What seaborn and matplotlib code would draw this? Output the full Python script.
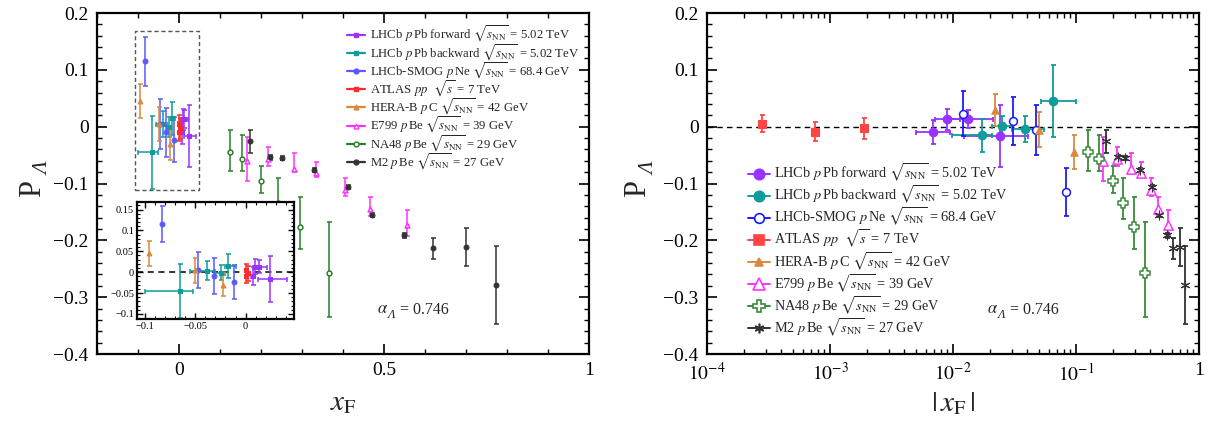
import numpy as np
import pandas as pd
import seaborn as sns
import matplotlib.pyplot as plt
from matplotlib.lines import Line2D
from matplotlib.patches import Rectangle
from matplotlib.ticker import MultipleLocator, FixedLocator, FuncFormatter, LogLocator, NullFormatter

sns.set_theme(style="ticks")
plt.rcParams['font.family'] = ['Liberation Serif', 'DejaVu Serif']
plt.rcParams['mathtext.fontset'] = 'stix'

# ---- data (xF signed, P as in left panel) ----
fwd_x = [0.0069, 0.0090, 0.0133, 0.0240]
fwd_p = [-0.009, 0.013, 0.013, -0.016]
fwd_up = [0.021, 0.018, 0.016, 0.055]
fwd_dn = [0.021, 0.018, 0.016, 0.055]
fwd_xmin = [0.0050, 0.0071, 0.0085, 0.0122]
fwd_xmax = [0.0094, 0.0114, 0.0210, 0.0408]

bwd_x = [-0.0172, -0.0249, -0.0388, -0.065]
bwd_p = [0.015, -0.001, 0.004, -0.045]
bwd_up = [0.029, 0.018, 0.023, 0.064]
bwd_dn = [0.029, 0.018, 0.023, 0.064]
bwd_xmin = [-0.0206, -0.030, -0.055, -0.100]
bwd_xmax = [-0.0099, -0.0206, -0.030, -0.052]

smog_x = [-0.0835, -0.047, -0.031, -0.012]
smog_p = [0.115, 0.005, -0.010, -0.023]
smog_up = [0.043, 0.044, 0.043, 0.040]
smog_dn = [0.043, 0.044, 0.043, 0.040]

atlas_x = [0.00028, 0.00075, 0.0019]
atlas_p = [0.005, -0.009, -0.003]
atlas_up = [0.015, 0.017, 0.018]
atlas_dn = [0.015, 0.017, 0.018]

herab_x = [-0.096, -0.050, -0.022]
herab_p = [0.045, 0.005, -0.030]
herab_up = [0.030, 0.030, 0.028]
herab_dn = [0.030, 0.030, 0.028]

e799_x = [0.167, 0.217, 0.281, 0.335, 0.406, 0.467, 0.556]
e799_p = [-0.060, -0.057, -0.074, -0.082, -0.111, -0.144, -0.173]
e799_up = [0.042, 0.021, 0.027, 0.020, 0.020, 0.021, 0.026]
e799_dn = [0.035, 0.013, 0.005, 0.006, 0.011, 0.013, 0.019]

na48_x = [0.125, 0.154, 0.200, 0.241, 0.296, 0.365]
na48_p = [-0.045, -0.056, -0.096, -0.135, -0.177, -0.257]
na48_up = [0.040, 0.042, 0.027, 0.044, 0.053, 0.090]
na48_dn = [0.033, 0.022, 0.020, 0.027, 0.039, 0.077]

m2_x = [0.174, 0.221, 0.251, 0.330, 0.411, 0.4715, 0.548, 0.619, 0.701, 0.772]
m2_p = [-0.026, -0.054, -0.055, -0.076, -0.106, -0.155, -0.191, -0.214, -0.212, -0.279]
m2_up = [0.021, 0.004, 0.004, 0.004, 0.004, 0.004, 0.004, 0.019, 0.033, 0.069]
m2_dn = [0.021, 0.004, 0.004, 0.004, 0.004, 0.004, 0.004, 0.019, 0.033, 0.069]

labels = [
    r'LHCb $p\,$Pb forward $\sqrt{s_{\rm NN}}$ = 5.02 TeV',
    r'LHCb $p\,$Pb backward $\sqrt{s_{\rm NN}}$ = 5.02 TeV',
    r'LHCb-SMOG $p\,$Ne $\sqrt{s_{\rm NN}}$ = 68.4 GeV',
    r'ATLAS $pp$  $\sqrt{s}$ = 7 TeV',
    r'HERA-B $p\,$C $\sqrt{s_{\rm NN}}$ = 42 GeV',
    r'E799 $p\,$Be $\sqrt{s_{\rm NN}}$ = 39 GeV',
    r'NA48 $p\,$Be $\sqrt{s_{\rm NN}}$ = 29 GeV',
    r'M2 $p\,$Be $\sqrt{s_{\rm NN}}$ = 27 GeV',
]

sets = [
    (fwd_x, fwd_p, fwd_up, fwd_dn, fwd_xmin, fwd_xmax),
    (bwd_x, bwd_p, bwd_up, bwd_dn, bwd_xmin, bwd_xmax),
    (smog_x, smog_p, smog_up, smog_dn, None, None),
    (atlas_x, atlas_p, atlas_up, atlas_dn, None, None),
    (herab_x, herab_p, herab_up, herab_dn, None, None),
    (e799_x, e799_p, e799_up, e799_dn, None, None),
    (na48_x, na48_p, na48_up, na48_dn, None, None),
    (m2_x, m2_p, m2_up, m2_dn, None, None),
]

# styles: left (small) and right (big) markers
colL = ['#9933ff', '#109c9a', '#5a5aff', '#ff2a2a', '#d98a40', '#ff33ff', '#2a7f2a', '#333333']
colR = ['#9933ff', '#109c9a', '#1a1aff', '#ff4444', '#d98a40', '#ff33ff', '#3a8a3a', '#333333']
mkL = ['s', 's', 'o', 's', '^', '^', 'o', 'o']
openL = [False, False, False, False, False, True, True, False]
mkR = ['o', 'o', 'o', 's', '^', '^', 'P', (6, 2, 0)]
openR = [False, False, True, False, False, True, True, False]
sizeR = [38, 38, 32, 30, 28, 45, 48, 40]

fig = plt.figure(figsize=(12.11, 4.34), dpi=100)
axL = fig.add_axes([0.0801, 0.1843, 0.4063, 0.7857])
axR = fig.add_axes([0.5838, 0.1843, 0.4063, 0.7857])
axI = fig.add_axes([0.1131, 0.2650, 0.1296, 0.2696])


def draw(ax, i, mirror, size, col, mk, op, elw=1.2):
    x, p, up, dn, xmin, xmax = [None if a is None else np.asarray(a, float) for a in sets[i]]
    if mirror:
        s = np.sign(x)
        xx = np.abs(x)
        pp = s * p
        u = np.where(s > 0, up, dn)
        d = np.where(s > 0, dn, up)
        if xmin is not None:
            lo = np.minimum(np.abs(xmin), np.abs(xmax))
            hi = np.maximum(np.abs(xmin), np.abs(xmax))
            xerr = [xx - lo, hi - xx]
        else:
            xerr = None
    else:
        xx, pp, u, d = x, p, up, dn
        xerr = None if xmin is None else [x - xmin, xmax - x]
    ax.errorbar(xx, pp, yerr=[d, u], xerr=xerr, fmt='none', ecolor=col,
                elinewidth=elw, capsize=1.8, capthick=elw, zorder=2)
    df = pd.DataFrame({'x': xx, 'P': pp})
    if op:
        sns.scatterplot(data=df, x='x', y='P', ax=ax, marker=mk, s=size, color='white',
                        edgecolor=col, linewidth=1.1, legend=False, zorder=3)
    else:
        sns.scatterplot(data=df, x='x', y='P', ax=ax, marker=mk, s=size, color=col,
                        edgecolor=col, linewidth=0.8, legend=False, zorder=3)


for i in range(len(sets)):
    draw(axL, i, False, 12, colL[i], mkL[i], openL[i], elw=1.1)
    draw(axI, i, False, 12, colL[i], mkL[i], openL[i], elw=1.1)
    draw(axR, i, True, sizeR[i], colR[i], mkR[i], openR[i], elw=1.3)


def fmt(v, _):
    v = round(v, 4)
    if abs(v) < 1e-9:
        return '0'
    return f'{v:g}'.replace('-', '\u2212')


for ax in (axL, axR, axI):
    for sp in ax.spines.values():
        sp.set_linewidth(1.6)
        sp.set_color('black')
    ax.tick_params(which='both', direction='in', top=True, right=True, colors='black')
    ax.set_xlabel('')
    ax.set_ylabel('')


def alpha_text(ax, x, y):
    # alpha with an italic Lambda subscript
    kw = dict(xy=(x, y), xycoords='axes fraction', textcoords='offset points', va='center')
    ax.annotate(r'$\alpha$', xytext=(0, 0.5), fontsize=12, ha='left', **kw)
    ax.annotate('\u039b', xytext=(7.6, -3.5), fontsize=9, style='italic', ha='left', **kw)
    ax.annotate('= 0.746', xytext=(16.5, 0), fontsize=11.5, ha='left', **kw)


def p_label(xp, xs):
    fig.text(xp, 0.565, 'P', rotation=90, ha='center', va='center', fontsize=22)
    fig.text(xs, 0.612, '\u039b', rotation=90, ha='center', va='center', fontsize=15,
             style='italic')


# left panel
inset_xlim = (-0.108, 0.048)
inset_ylim = (-0.112, 0.168)
axL.set_xlim(-0.2, 1.0)
axL.set_ylim(-0.4, 0.2)
axL.xaxis.set_major_locator(FixedLocator([0, 0.5, 1.0]))
axL.xaxis.set_minor_locator(MultipleLocator(0.1))
axL.yaxis.set_major_locator(MultipleLocator(0.1))
axL.yaxis.set_minor_locator(MultipleLocator(0.02))
axL.xaxis.set_major_formatter(FuncFormatter(fmt))
axL.yaxis.set_major_formatter(FuncFormatter(fmt))
axL.tick_params(which='major', length=7, width=1.2, labelsize=14, pad=6)
axL.tick_params(which='minor', length=3.5, width=1.0)
axL.add_patch(Rectangle((inset_xlim[0], inset_ylim[0]), inset_xlim[1] - inset_xlim[0],
                        inset_ylim[1] - inset_ylim[0], fill=False, ls=(0, (3, 2)),
                        ec='#555555', lw=1.0, zorder=1))
axL.set_xlabel(r'$x_{\rm F}$', fontsize=21, labelpad=8)
alpha_text(axL, 0.569, 0.13)
p_label(0.0265, 0.0365)

# inset
axI.set_xlim(*inset_xlim)
axI.set_ylim(*inset_ylim)
axI.axhline(0, ls=(0, (4, 3)), color='black', lw=1.1, zorder=1)
axI.xaxis.set_major_locator(FixedLocator([-0.1, -0.05, 0]))
axI.xaxis.set_minor_locator(MultipleLocator(0.01))
axI.yaxis.set_major_locator(MultipleLocator(0.05))
axI.yaxis.set_minor_locator(MultipleLocator(0.01))
axI.xaxis.set_major_formatter(FuncFormatter(fmt))
axI.yaxis.set_major_formatter(FuncFormatter(fmt))
axI.tick_params(which='major', length=4, width=1.0, labelsize=7.5, pad=2)
axI.tick_params(which='minor', length=2, width=0.8)

# right panel
axR.set_xscale('log')
axR.set_xlim(1e-4, 1.0)
axR.set_ylim(-0.4, 0.2)
axR.axhline(0, ls=(0, (4, 3)), color='black', lw=1.0, zorder=1)
axR.xaxis.set_major_locator(FixedLocator([1e-4, 1e-3, 1e-2, 1e-1, 1.0]))
axR.xaxis.set_minor_locator(LogLocator(base=10, subs=np.arange(2, 10), numticks=20))
axR.xaxis.set_minor_formatter(NullFormatter())
xlab = {-4: r'$10^{-4}$', -3: r'$10^{-3}$', -2: r'$10^{-2}$', -1: r'$10^{-1}$', 0: '1'}
axR.xaxis.set_major_formatter(FuncFormatter(lambda v, _: xlab.get(int(round(np.log10(v))), '')))
axR.yaxis.set_major_locator(MultipleLocator(0.1))
axR.yaxis.set_minor_locator(MultipleLocator(0.02))
axR.yaxis.set_major_formatter(FuncFormatter(fmt))
axR.tick_params(which='major', length=7, width=1.2, labelsize=14, pad=6)
axR.tick_params(which='minor', length=3.5, width=1.0)
axR.set_xlabel(r'$|\,x_{\rm F}\,|$', fontsize=21, labelpad=4)
alpha_text(axR, 0.569, 0.13)
p_label(0.5268, 0.5368)

# legends
hL = [Line2D([0], [0], color=colL[i], marker=mkL[i], markersize=3.5, lw=1.6,
             markerfacecolor='white' if openL[i] else colL[i], markeredgecolor=colL[i])
      for i in range(8)]
axL.legend(hL, labels, loc='upper left', bbox_to_anchor=(0.508, 0.968), frameon=False,
           fontsize=9.2, handlelength=1.4, handletextpad=0.4, labelspacing=-0.18,
           borderaxespad=0, borderpad=0)
hR = [Line2D([0], [0], color=colR[i], marker=mkR[i], markersize=[7.5, 7.5, 7, 6.5, 6, 8, 8, 7][i],
             lw=1.4, markerfacecolor='white' if openR[i] else colR[i],
             markeredgecolor=colR[i], markeredgewidth=1.2)
      for i in range(8)]
axR.legend(hR, labels, loc='upper left', bbox_to_anchor=(0.083, 0.563), frameon=False,
           fontsize=10.3, handlelength=1.55, handletextpad=0.3, labelspacing=0.0,
           borderaxespad=0, borderpad=0)

fig.savefig('out.png', dpi=100)
